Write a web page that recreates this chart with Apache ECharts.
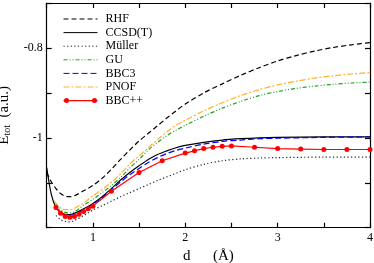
<!DOCTYPE html>
<html>
<head>
<meta charset="utf-8">
<script src="https://cdn.jsdelivr.net/npm/echarts@6/dist/echarts.min.js"></script>
<style>html,body{margin:0;padding:0;background:#fff}#c{width:374px;height:263px}</style>
</head>
<body>
<div id="c"></div>
<script>
// ---- data ----
const seriesNames = ['RHF', 'CCSD(T)', 'Müller', 'GU', 'BBC3', 'PNOF', 'BBC++'];

const rhfD = [0.5,0.55,0.6,0.65,0.7,0.75,0.8,0.9,1.0,1.1,1.2,1.3,1.4,1.5,1.6,1.7,1.8,1.9,2.0,2.2,2.4,2.6,2.8,3.0,3.2,3.4,3.6,3.8,4.0];
const rhfE = [-1.077,-1.098,-1.113,-1.124,-1.130,-1.131,-1.129,-1.118,-1.106,-1.090,-1.070,-1.048,-1.027,-1.007,-0.990,-0.973,-0.956,-0.940,-0.925,-0.900,-0.880,-0.861,-0.844,-0.829,-0.817,-0.807,-0.799,-0.793,-0.788];

const ccsdD = [0.5,0.55,0.6,0.65,0.7,0.75,0.8,0.9,1.0,1.1,1.2,1.3,1.4,1.5,1.6,1.7,1.8,1.9,2.0,2.2,2.4,2.6,2.8,3.0,3.5,4.0];
const ccsdE = [-1.066,-1.126,-1.155,-1.166,-1.170,-1.171,-1.168,-1.158,-1.146,-1.131,-1.113,-1.094,-1.077,-1.062,-1.048,-1.037,-1.029,-1.022,-1.017,-1.010,-1.005,-1.002,-1.000,-0.999,-0.998,-0.998];

const mullerD = [0.6,0.65,0.7,0.75,0.8,0.9,1.0,1.1,1.2,1.3,1.4,1.5,1.6,1.7,1.8,1.9,2.0,2.2,2.4,2.6,2.8,3.0,3.5,4.0];
const mullerE = [-1.173,-1.182,-1.186,-1.187,-1.184,-1.173,-1.161,-1.151,-1.141,-1.131,-1.122,-1.113,-1.104,-1.095,-1.087,-1.079,-1.071,-1.059,-1.051,-1.047,-1.045,-1.044,-1.043,-1.043];

const guD = [0.6,0.65,0.7,0.75,0.8,0.9,1.0,1.1,1.2,1.3,1.4,1.5,1.6,1.7,1.8,1.9,2.0,2.2,2.4,2.6,2.8,3.0,3.2,3.4,3.6,3.8,4.0];
const guE = [-1.146,-1.160,-1.166,-1.167,-1.165,-1.150,-1.137,-1.122,-1.106,-1.088,-1.067,-1.048,-1.027,-1.010,-0.995,-0.983,-0.972,-0.952,-0.934,-0.919,-0.906,-0.897,-0.890,-0.885,-0.881,-0.878,-0.876];

const bbc3D = [0.6,0.65,0.7,0.75,0.8,0.9,1.0,1.1,1.2,1.3,1.4,1.5,1.6,1.7,1.8,1.9,2.0,2.2,2.4,2.6,2.8,3.0,3.5,4.0];
const bbc3E = [-1.153,-1.166,-1.171,-1.172,-1.170,-1.160,-1.148,-1.133,-1.116,-1.098,-1.082,-1.068,-1.055,-1.044,-1.035,-1.028,-1.023,-1.014,-1.008,-1.005,-1.002,-1.001,-0.999,-0.998];

const pnofD = [0.58,0.6,0.65,0.7,0.75,0.8,0.9,1.0,1.1,1.2,1.3,1.4,1.5,1.6,1.7,1.8,1.9,2.0,2.2,2.4,2.6,2.8,3.0,3.2,3.4,3.6,3.8,4.0];
const pnofE = [-1.140,-1.146,-1.156,-1.160,-1.160,-1.157,-1.145,-1.129,-1.115,-1.099,-1.080,-1.058,-1.040,-1.022,-1.004,-0.987,-0.972,-0.961,-0.940,-0.922,-0.906,-0.893,-0.882,-0.874,-0.867,-0.862,-0.858,-0.855];

const bbcppD = [0.6,0.65,0.7,0.75,0.8,0.85,0.9,0.95,1.0,1.2,1.5,1.75,2.0,2.1,2.2,2.3,2.4,2.5,2.75,3.0,3.25,3.5,3.75,4.0];
const bbcppE = [-1.155,-1.168,-1.175,-1.177,-1.175,-1.170,-1.164,-1.158,-1.152,-1.119,-1.077,-1.051,-1.034,-1.029,-1.024,-1.021,-1.019,-1.018,-1.021,-1.024,-1.025,-1.026,-1.026,-1.026];

const xTickLabels = ['1', '2', '3', '4'];
const yTickLabels = ['-0.8', '-1'];

// ---- chart ----
const zip = (d, e) => d.map((v, i) => [v, e[i]]);
const FONT = '"Liberation Serif", "DejaVu Serif", serif';

function lineSeries(name, d, e, color, type, extra) {
  return Object.assign({
    name, type: 'line', data: zip(d, e), smooth: 0.3, symbol: 'none',
    lineStyle: { color, width: 1.2, type },
    itemStyle: { color },
    emphasis: { disabled: true }, animation: false
  }, extra || {});
}

const series = [
  lineSeries('RHF', rhfD, rhfE, '#000', [5, 3]),
  lineSeries('CCSD(T)', ccsdD, ccsdE, '#000', 'solid'),
  lineSeries('Müller', mullerD, mullerE, '#222', [1.2, 2.4]),
  lineSeries('GU', guD, guE, '#1fa01f', [4, 2, 1, 2, 1, 2]),
  lineSeries('BBC3', bbc3D, bbc3E, '#0000ff', [6, 3]),
  lineSeries('PNOF', pnofD, pnofE, '#ffb02e', [6, 2, 2, 2]),
  lineSeries('BBC++', bbcppD, bbcppE, '#ff0000', 'solid', {
    smooth: false, symbol: 'circle', symbolSize: 5, showSymbol: true
  })
];

const redIcon = 'path://M0,3.4L34,3.4L34,4.6L0,4.6Z' +
  'M0.5,4a2.5,2.5 0 1,1 5,0a2.5,2.5 0 1,1 -5,0Z' +
  'M28.5,4a2.5,2.5 0 1,1 5,0a2.5,2.5 0 1,1 -5,0Z';

const legendData = seriesNames.map(n => n === 'BBC++'
  ? { name: n, icon: redIcon, itemStyle: { color: '#ff0000', borderColor: '#ff0000', borderWidth: 0, opacity: 1 } }
  : { name: n, itemStyle: { opacity: 0 } });

const axisLine = { show: true, lineStyle: { color: '#000', width: 1.2 } };
const tick = { show: true, inside: true, length: 5, lineStyle: { color: '#000', width: 1.2 } };
const labelFont = { fontFamily: FONT, fontSize: 12, color: '#000' };

const option = {
  animation: false,
  grid: { left: 46.7, right: 4, top: 3, bottom: 35.3, containLabel: false, outerBoundsMode: 'none' },
  legend: {
    data: legendData,
    orient: 'vertical', left: 58, top: 8,
    itemWidth: 34, itemHeight: 8, itemGap: 1.6,
    lineStyle: { width: 1 },
    textStyle: { fontFamily: FONT, fontSize: 12, color: '#000', padding: [0, 0, 0, 3] },
    selectedMode: false
  },
  xAxis: [
    {
      type: 'value', min: 0.5, max: 4, interval: 0.5, position: 'bottom',
      axisLine, axisTick: tick, splitLine: { show: false },
      axisLabel: Object.assign({}, labelFont, {
        margin: 4,
        formatter: v => { const i = xTickLabels.indexOf(String(v)); return i >= 0 ? xTickLabels[i] : ''; }
      }),
      name: 'd      (Å)', nameLocation: 'middle', nameGap: 17,
      nameTextStyle: { fontFamily: FONT, fontSize: 15, color: '#000' }
    },
    {
      type: 'value', min: 0.5, max: 4, interval: 0.5, position: 'top',
      axisLine, axisTick: tick, axisLabel: { show: false }, splitLine: { show: false }
    }
  ],
  yAxis: [
    {
      type: 'value', min: -1.2, max: -0.7, interval: 0.1, position: 'left',
      axisLine, axisTick: tick, splitLine: { show: false },
      axisLabel: Object.assign({}, labelFont, {
        margin: 4,
        formatter: v => {
          const s = String(Math.round(v * 10) / 10);
          return yTickLabels.indexOf(s) >= 0 ? s : '';
        }
      }),
      name: '{a|E}{b|tot}{a|  (a.u.)}', nameLocation: 'middle', nameGap: 32, nameRotate: 90,
      nameTextStyle: {
        fontFamily: FONT, color: '#000',
        rich: {
          a: { fontFamily: FONT, fontSize: 15, color: '#000' },
          b: { fontFamily: FONT, fontSize: 10, color: '#000', padding: [7, 0, 0, 0] }
        }
      }
    },
    {
      type: 'value', min: -1.2, max: -0.7, interval: 0.1, position: 'right',
      axisLine, axisTick: tick, axisLabel: { show: false }, splitLine: { show: false }
    }
  ],
  series
};

echarts.init(document.getElementById('c'), null, { renderer: 'canvas' }).setOption(option);
</script>
</body>
</html>
